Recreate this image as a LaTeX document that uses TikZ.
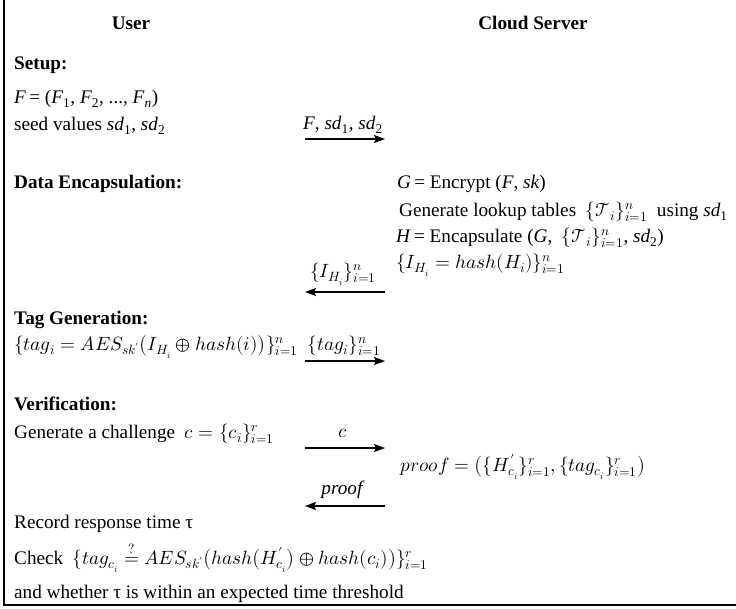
\documentclass[tikz,border=0pt]{standalone}
\usepackage{amsmath}
\usepackage{fontspec}
\usepackage{unicode-math}
\setmainfont{Liberation Serif}
\setmathfont{Latin Modern Math}
\usetikzlibrary{arrows.meta}
\newcommand{\mainsize}{\fontsize{19.2}{23}\selectfont}
\newcommand{\sbs}[1]{\textsubscript{#1}}
\tikzset{
  txt/.style={anchor=base west, inner sep=0pt, font=\mainsize},
  head/.style={txt, font=\mainsize\bfseries},
  party/.style={anchor=base, inner sep=0pt, font=\mainsize\bfseries},
  lbl/.style={anchor=base, inner sep=0pt, font=\mainsize},
  msgarrow/.style={line width=1.5pt, -{Stealth[length=11pt,width=8pt,inset=2pt]}},
  frame/.style={line width=1.3pt}
}
\begin{document}
\begin{tikzpicture}[x=1pt,y=-1pt]
\useasboundingbox (0,0) rectangle (736,608);
% frame on the left and at the bottom
\draw[frame] (4,0) -- (4,605) -- (736,605);

% the two parties
\node[party] (user) at (131,29) {User};
\node[party] (cloud) at (533,29) {Cloud Server};

% Setup
\node[head] (setup) at (14,69) {Setup:};
\node[txt] (file) at (14,103) {\textit{F}\,= (\textit{F}\sbs{1}, \textit{F}\sbs{2}, ..., \textit{F}\sbs{\textit{n}})};
\node[txt] (seeds) at (14,130) {seed values \textit{sd}\sbs{1}, \textit{sd}\sbs{2}};
\coordinate (u1) at (305,139);
\coordinate (s1) at (385,139);
\node[lbl] (l1) at (343,129) {\textit{F}, \textit{sd}\sbs{1}, \textit{sd}\sbs{2}};
\draw[msgarrow] (u1) -- (s1);

% Data encapsulation
\node[head] (encap) at (14,188) {Data Encapsulation:};
\node[txt] (enc) at (397,188) {\textit{G}\,= Encrypt (\textit{F}, \textit{sk})};
\node[txt] (lookup) at (399,216) {Generate lookup tables \ $\{\mathcal{T}_i\}_{i=1}^{n}$ \ using \textit{sd}\sbs{1}};
\node[txt] (encH) at (396,242) {\textit{H}\,= Encapsulate (\textit{G}, \ $\{\mathcal{T}_i\}_{i=1}^{n}$, \textit{sd}\sbs{2})};
\node[txt] (hashes) at (396,268) {$\{I_{H_i} = hash(H_i)\}_{i=1}^{n}$};
\coordinate (s2) at (385,292);
\coordinate (u2) at (305,292);
\node[lbl] (l2) at (343,277) {$\{I_{H_i}\}_{i=1}^{n}$};
\draw[msgarrow] (s2) -- (u2);

% Tag generation
\node[head] (taggen) at (14,324) {Tag Generation:};
\node[txt] (tags) at (14,350) {$\{tag_i = AES_{sk'}\bigl(I_{H_i} \oplus hash(i)\bigr)\}_{i=1}^{n}$};
\coordinate (u3) at (305,361);
\coordinate (s3) at (385,361);
\node[lbl] (l3) at (344,350) {$\{tag_i\}_{i=1}^{n}$};
\draw[msgarrow] (u3) -- (s3);

% Verification
\node[head] (verif) at (14,410) {Verification:};
\node[txt] (chal) at (14,438) {Generate a challenge \ $c = \{c_i\}_{i=1}^{r}$};
\coordinate (u4) at (305,448);
\coordinate (s4) at (385,448);
\node[lbl] (l4) at (343,437) {$c$};
\draw[msgarrow] (u4) -- (s4);
\node[txt] (proof) at (400,471) {$proof = \bigl(\{H'_{c_i}\}_{i=1}^{r}, \{tag_{c_i}\}_{i=1}^{r}\bigr)$};
\coordinate (s5) at (385,506);
\coordinate (u5) at (305,506);
\node[lbl] (l5) at (343,494) {\textit{proof}};
\draw[msgarrow] (s5) -- (u5);
\node[txt] (record) at (14,528) {Record response time τ};
\node[txt] (check) at (14,564) {Check \ $\{tag_{c_i} \stackrel{?}{=} AES_{sk'}\bigl(hash\bigl(H'_{c_i}\bigr) \oplus hash(c_i)\bigr)\}_{i=1}^{r}$};
\node[txt] (thresh) at (14,598) {and whether τ is within an expected time threshold};
\end{tikzpicture}
\end{document}
